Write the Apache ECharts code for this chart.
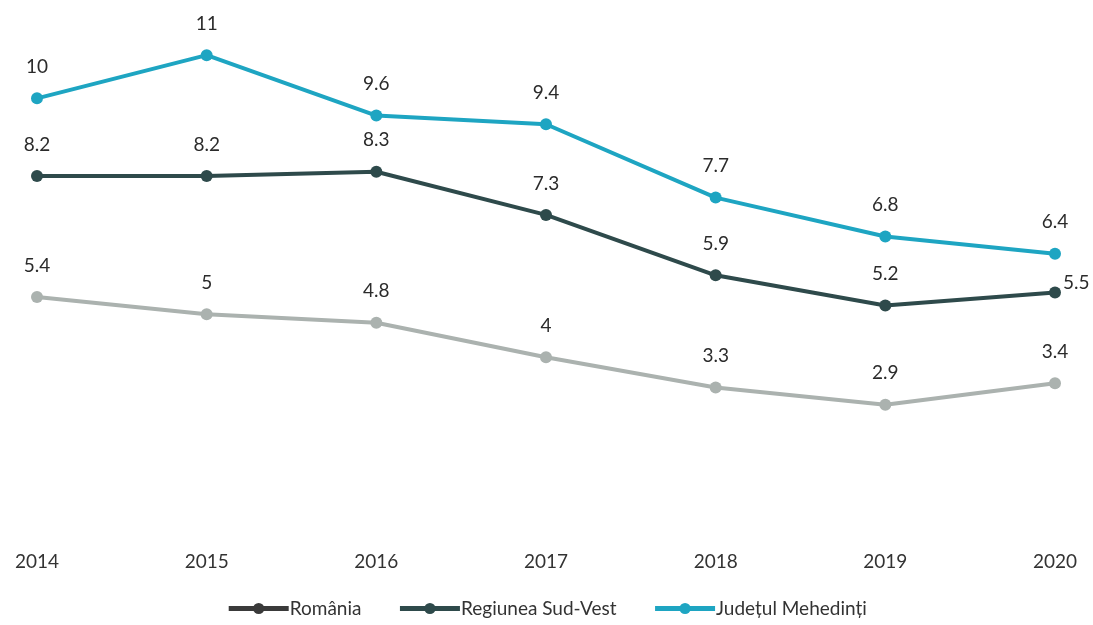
<!DOCTYPE html>
<html><head><meta charset="utf-8">
<script src="https://cdn.jsdelivr.net/npm/echarts@6/dist/echarts.min.js"></script>
<style>html,body{margin:0;padding:0;background:#fff}#c{width:1093px;height:625px}</style>
</head><body><div id="c"></div>
<script>
const years = ['2014','2015','2016','2017','2018','2019','2020'];
const romania = [5.4, 5, 4.8, 4, 3.3, 2.9, 3.4];
const sudVest = [8.2, 8.2, 8.3, 7.3, 5.9, 5.2, 5.5];
const mehedinti = [10, 11, 9.6, 9.4, 7.7, 6.8, 6.4];
const names = ['România', 'Regiunea Sud-Vest', 'Județul Mehedinți'];
const colors = ['#abb2af', '#2e4a4b', '#1ea5c2'];
const legendColors = ['#3a3a3a', '#2e4a4b', '#1ea5c2'];
const font = 'Lato, "Open Sans", sans-serif';

function mk(name, data, color) {
  return {
    name, type: 'line', data,
    symbol: 'circle', symbolSize: 12,
    lineStyle: {width: 4, color},
    itemStyle: {color},
    label: {show: true, position: 'top', distance: 16, fontSize: 19, color: '#2b2b2b', fontFamily: font},
    z: 2
  };
}
const chart = echarts.init(document.getElementById('c'));
const s = [mk(names[0], romania, colors[0]), mk(names[1], sudVest, colors[1]), mk(names[2], mehedinti, colors[2])];
s[1].data = sudVest.map((v, i) => i === 6 ? {value: v, label: {position: 'right', distance: 2, offset: [0, -10]}} : v);
chart.setOption({
  animation: false,
  grid: {left: 37, right: 38, top: 12, bottom: 95},
  xAxis: {type: 'category', data: years, boundaryGap: false,
    axisLine: {show: false}, axisTick: {show: false},
    axisLabel: {fontSize: 19, color: '#333', margin: 22, fontFamily: font}},
  yAxis: {type: 'value', min: 0, max: 12, show: false, splitLine: {show: false}},
  legend: {bottom: 2, left: 'center', itemWidth: 60, itemHeight: 14, itemGap: 36,
    textStyle: {fontSize: 19, color: '#333', fontFamily: font, padding: [0, 0, 0, -4]},
    data: names.map((n, i) => ({name: n,
      itemStyle: {color: legendColors[i]},
      lineStyle: {color: legendColors[i], width: 5}}))},
  series: s
});
</script></body></html>
